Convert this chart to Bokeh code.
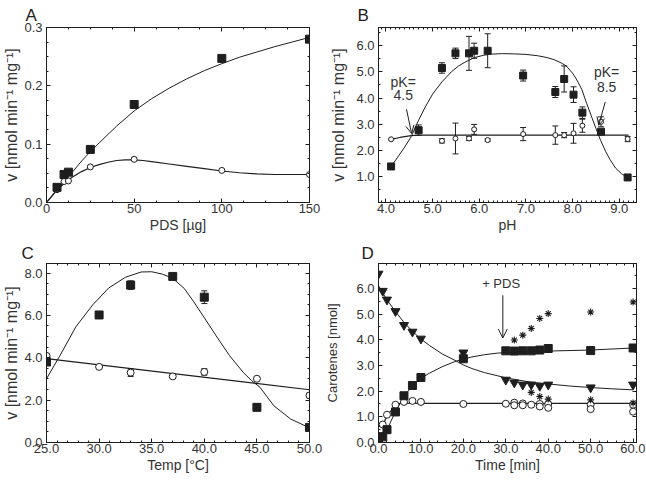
from bokeh.plotting import figure
from bokeh.layouts import gridplot
from bokeh.models import (ColumnDataSource, Whisker, TeeHead, Arrow, OpenHead, Label,
                          LinearAxis, SingleIntervalTicker, FixedTicker, PrintfTickFormatter,
                          CustomJSTickFormatter, Range1d)
from bokeh.embed import file_html
from bokeh.resources import INLINE

FONT = "Liberation Sans"
INK = "#1e1e1e"
TXT = "#333333"

# ---------------- Panel A data ----------------
a_pds = [6, 10, 12.5, 25, 50, 100, 150]
a_sq = [0.026, 0.048, 0.052, 0.091, 0.168, 0.247, 0.280]
a_ci = [0.022, 0.036, 0.037, 0.061, 0.074, 0.055, 0.048]
a_fit_x = [0, 5, 10, 15, 20, 25, 30, 40, 50, 60, 70, 80, 90, 100, 110, 120, 130, 140, 150]
a_fit_sq = [0, 0.018, 0.036, 0.053, 0.071, 0.087, 0.102, 0.131, 0.157, 0.178, 0.196, 0.212,
            0.226, 0.238, 0.249, 0.258, 0.267, 0.275, 0.283]
a_fit2_x = [0, 5, 10, 15, 20, 25, 30, 35, 40, 45, 50, 55, 60, 70, 80, 90, 100, 110, 120, 130, 140, 150]
a_fit_ci = [0, 0.018, 0.033, 0.044, 0.053, 0.060, 0.065, 0.069, 0.072, 0.073, 0.073, 0.072,
            0.070, 0.066, 0.062, 0.058, 0.054, 0.051, 0.049, 0.048, 0.048, 0.048]
a_yticks = [0.0, 0.1, 0.2, 0.3]

# ---------------- Panel B data ----------------
b_ph_sq = [4.11, 4.70, 5.20, 5.49, 5.78, 5.89, 6.18, 6.94, 7.63, 7.82, 8.02, 8.21, 8.61, 9.18]
b_sq = [1.38, 2.77, 5.15, 5.71, 5.71, 5.81, 5.81, 4.86, 4.23, 4.73, 4.13, 3.44, 2.71, 0.96]
b_sq_err = [0.0, 0.2, 0.2, 0.2, 0.65, 0.29, 0.65, 0.21, 0.21, 0.5, 0.3, 0.22, 0.08, 0.0]
b_ph_ci = [4.11, 5.20, 5.49, 5.78, 5.89, 6.18, 6.94, 7.63, 7.82, 8.02, 8.21, 8.61, 9.18]
b_ci = [2.42, 2.36, 2.45, 2.45, 2.80, 2.39, 2.62, 2.58, 2.58, 2.65, 2.94, 3.09, 2.43]
b_ci_err = [0.0, 0.08, 0.59, 0.07, 0.19, 0.05, 0.25, 0.35, 0.1, 0.38, 0.25, 0.19, 0.1]
b_fit_x = [4.11, 4.25, 4.4, 4.54, 4.7, 4.84, 5.0, 5.2, 5.4, 5.55, 5.7, 5.9, 6.1, 6.25, 6.5,
           6.75, 7.0, 7.25, 7.45, 7.6, 7.75, 7.87, 8.0, 8.08, 8.2, 8.3, 8.4, 8.5, 8.6, 8.71,
           8.8, 8.92, 9.05, 9.18]
b_fit_sq = [1.38, 1.73, 2.12, 2.52, 3.15, 3.65, 4.15, 4.62, 5.0, 5.22, 5.38, 5.55, 5.64, 5.68,
            5.70, 5.69, 5.67, 5.62, 5.55, 5.47, 5.35, 5.22, 4.95, 4.73, 4.32, 3.8, 3.32, 2.84,
            2.38, 1.95, 1.65, 1.32, 1.1, 0.96]
b_fit2_x = [4.11, 4.3, 4.54, 4.7, 9.2]
b_fit_ci = [2.42, 2.49, 2.56, 2.58, 2.58]
b_yticks = [1.0, 2.0, 3.0, 4.0, 5.0, 6.0]
b_pk_lo = (4.37, 4.62, 4.11)   # label x, "pK=" y, value y
b_pk_hi = (8.73, 5.0, 4.43)
b_arrow_lo = (4.44, 3.57, 4.55, 2.64)
b_arrow_hi = (8.70, 3.85, 8.56, 2.96)

# ---------------- Panel C data ----------------
c_temp = [25, 30, 33, 37, 40, 45, 50]
c_sq = [3.80, 6.02, 7.43, 7.84, 6.86, 1.66, 0.71]
c_sq_err = [0.0, 0.0, 0.2, 0.12, 0.3, 0.0, 0.15]
c_ci = [4.09, 3.57, 3.30, 3.12, 3.33, 3.01, 2.22]
c_ci_err = [0.0, 0.0, 0.18, 0.0, 0.15, 0.0, 0.1]
c_fit_x = [25, 26.3, 27.8, 29.4, 30.9, 32.5, 34.0, 35.0, 36.0, 37.0, 38.1, 39.0, 39.95, 41.2,
           42.4, 43.7, 44.5, 45.3, 46.6, 48.2, 49.7, 50]
c_fit_sq = [3.01, 4.12, 5.47, 6.5, 7.29, 7.8, 8.05, 8.06, 7.95, 7.75, 7.27, 6.64, 5.93, 4.98,
            4.1, 3.31, 2.92, 2.6, 1.74, 1.11, 0.76, 0.72]
c_lin_x = [25, 50]
c_lin_ci = [3.96, 2.49]

# ---------------- Panel D data ----------------
d_t_sq = [0, 1, 2, 4, 6, 8, 10, 20, 30, 32, 34, 36, 38, 40, 50, 60]
d_sq = [0.02, 0.22, 0.5, 1.19, 1.82, 2.22, 2.53, 3.26, 3.57, 3.56, 3.57, 3.57, 3.6, 3.66, 3.58, 3.68]
d_t_tri = [0, 1, 2, 4, 6, 8, 10, 20, 30, 32, 34, 36, 38, 40, 50, 60]
d_tri = [6.57, 5.9, 5.56, 5.11, 4.57, 4.31, 4.04, 3.5, 2.44, 2.33, 2.25, 2.25, 2.2, 2.25, 2.14, 2.25]
d_t_ci = [0.5, 1, 2, 4, 6, 8, 10, 20, 30, 32, 34, 36, 38, 40, 50, 60]
d_ci = [0.5, 0.7, 1.08, 1.47, 1.58, 1.62, 1.58, 1.5, 1.51, 1.55, 1.52, 1.47, 1.5, 1.5, 1.47, 1.47]
d_t_ci2 = [32, 34, 38, 40, 50, 60]
d_ci2 = [1.45, 1.45, 1.4, 1.35, 1.3, 1.2]
d_t_st = [32, 34, 36, 38, 40, 50, 60]
d_st = [3.99, 4.18, 4.44, 4.83, 5.02, 5.08, 5.47]
d_t_st2 = [36, 38, 40, 50, 60]
d_st2 = [1.95, 1.79, 1.69, 1.66, 1.54]
d_fit_sq_x = [0, 1, 2, 4, 6, 8, 10, 12, 15, 18, 20, 22, 25, 28, 30, 35, 40, 50, 60]
d_fit_sq = [0, 0.2, 0.5, 1.2, 1.8, 2.2, 2.5, 2.7, 2.95, 3.15, 3.25, 3.33, 3.42, 3.48, 3.5, 3.53,
            3.56, 3.6, 3.68]
d_fit_tri_x = [0, 2, 4, 6, 8, 10, 12, 15, 18, 20, 22, 25, 28, 30, 33, 36, 40, 45, 50, 55, 60]
d_fit_tri = [6.1, 5.55, 5.1, 4.68, 4.33, 4.03, 3.78, 3.45, 3.2, 3.02, 2.88, 2.72, 2.6, 2.52,
             2.43, 2.35, 2.28, 2.2, 2.14, 2.09, 2.05]
d_fit_ci_x = [0, 1, 2, 4, 5, 60]
d_fit_ci = [0, 0.65, 1.05, 1.45, 1.52, 1.52]
d_pds_label = (28.9, 6.19)
d_pds_arrow = (29.3, 5.73, 29.3, 4.07)

EMPTY = CustomJSTickFormatter(code="return ''")


def make_fig(w, h, xr, yr, borders, letter, dx, standoff):
    l, r, t, b = borders
    p = figure(width=w, height=h, x_range=Range1d(*xr), y_range=Range1d(*yr),
               output_backend="svg", toolbar_location=None,
               min_border_left=l, min_border_right=r, min_border_top=t, min_border_bottom=b)
    p.xgrid.visible = False
    p.ygrid.visible = False
    p.outline_line_color = INK
    p.outline_line_width = 1
    p.background_fill_color = "white"
    p.border_fill_color = "white"
    p.title.text = letter
    p.title.text_font = FONT
    p.title.text_font_size = "17px"
    p.title.text_font_style = "normal"
    p.title.text_color = INK
    p.title.align = "left"
    p.title.offset = dx
    p.title.standoff = standoff
    return p


def style_axes(p, xt, yt, xfmt, yfmt, xlabel, ylabel, ylab_size="16px", ylab_standoff=1):
    p.xaxis.ticker = xt
    p.yaxis.ticker = yt
    p.xaxis.formatter = PrintfTickFormatter(format=xfmt)
    p.yaxis.formatter = PrintfTickFormatter(format=yfmt)
    p.xaxis.axis_label = xlabel
    p.yaxis.axis_label = ylabel
    for ax in p.axis:
        ax.major_tick_in = 4
        ax.major_tick_out = 0
        ax.minor_tick_in = 2
        ax.minor_tick_out = 0
        ax.axis_line_color = INK
        ax.major_tick_line_color = INK
        ax.minor_tick_line_color = INK
        ax.major_label_text_font = FONT
        ax.major_label_text_font_size = "13px"
        ax.major_label_text_color = TXT
        ax.axis_label_text_font = FONT
        ax.axis_label_text_font_style = "normal"
        ax.axis_label_text_color = TXT
    p.xaxis.major_label_standoff = 1
    p.yaxis.major_label_standoff = 4
    p.xaxis.axis_label_text_font_size = "14px"
    p.xaxis.axis_label_standoff = 1
    p.yaxis.axis_label_text_font_size = ylab_size
    p.yaxis.axis_label_standoff = ylab_standoff
    for loc, tk in (("above", xt), ("right", yt)):
        ax = LinearAxis(ticker=tk, formatter=EMPTY, major_label_text_font_size="1px",
                        major_label_standoff=0, axis_label_standoff=0,
                        major_tick_in=4, major_tick_out=0, minor_tick_in=2, minor_tick_out=0,
                        axis_line_color=INK, major_tick_line_color=INK, minor_tick_line_color=INK)
        p.add_layout(ax, loc)


def errbars(p, xs, ys, errs):
    lo = [y - e for y, e in zip(ys, errs)]
    up = [y + e for y, e in zip(ys, errs)]
    src = ColumnDataSource(dict(x=xs, lo=lo, up=up))
    p.add_layout(Whisker(source=src, base="x", lower="lo", upper="up", line_color=INK, line_width=1,
                         lower_head=TeeHead(size=6, line_color=INK, line_width=1),
                         upper_head=TeeHead(size=6, line_color=INK, line_width=1)))


def minor(lo, hi, step):
    n = int(round((hi - lo) / step))
    return [round(lo + i * step, 4) for i in range(n + 1)]


YLAB = "v [nmol min\u207b\u00b9 mg\u207b\u00b9]"

# ---------------- Panel A ----------------
pa = make_fig(322, 240, (0, 150), (0, 0.3), (46, 13, 27, 38), "A", -21, 6)
style_axes(pa, SingleIntervalTicker(interval=50, num_minor_ticks=4),
           FixedTicker(ticks=a_yticks, minor_ticks=minor(0, 0.3, 0.025)),
           "%d", "%.1f", "PDS [\u00b5g]", YLAB)
pa.line(a_fit_x, a_fit_sq, line_color=INK, line_width=1)
pa.line(a_fit2_x, a_fit_ci, line_color=INK, line_width=1.2)
pa.scatter(a_pds, a_ci, marker="circle", size=6, fill_color="white", line_color=INK, line_width=1)
pa.scatter(a_pds, a_sq, marker="square", size=8, fill_color=INK, line_color=INK)

# ---------------- Panel B ----------------
pb = make_fig(323, 240, (3.84, 9.37), (0, 6.7), (51, 9, 27, 38), "B", -21, 6)
style_axes(pb, SingleIntervalTicker(interval=1, num_minor_ticks=10),
           FixedTicker(ticks=b_yticks, minor_ticks=minor(0, 6.5, 0.5)),
           "%.1f", "%.1f", "pH", YLAB, ylab_standoff=6)
pb.line(b_fit_x, b_fit_sq, line_color=INK, line_width=1)
pb.line(b_fit2_x, b_fit_ci, line_color=INK, line_width=1.2)
errbars(pb, b_ph_ci, b_ci, b_ci_err)
errbars(pb, b_ph_sq, b_sq, b_sq_err)
pb.scatter(b_ph_ci, b_ci, marker="circle", size=5, fill_color="white", line_color=INK, line_width=1)
pb.scatter(b_ph_sq, b_sq, marker="square", size=7, fill_color=INK, line_color=INK)
for (lx, ly1, ly2), val in ((b_pk_lo, "4.5"), (b_pk_hi, "8.5")):
    pb.add_layout(Label(x=lx, y=ly1, text="pK=", text_font=FONT, text_font_size="14px",
                        text_color=TXT, text_align="center", text_baseline="middle"))
    pb.add_layout(Label(x=lx, y=ly2, text=val, text_font=FONT, text_font_size="14px",
                        text_color=TXT, text_align="center", text_baseline="middle"))
for xs, ys, xe, ye in (b_arrow_lo, b_arrow_hi):
    pb.add_layout(Arrow(x_start=xs, y_start=ys, x_end=xe, y_end=ye, line_color=INK, line_width=1,
                        end=OpenHead(size=8, line_color=INK, line_width=1)))

# ---------------- Panel C ----------------
pc = make_fig(322, 245, (25, 50), (0, 8.45), (46, 13, 23, 43), "C", -25, 2)
style_axes(pc, SingleIntervalTicker(interval=5, num_minor_ticks=5),
           SingleIntervalTicker(interval=2, num_minor_ticks=4), "%.1f", "%.1f", "Temp [\u00b0C]", YLAB)
pc.line(c_fit_x, c_fit_sq, line_color=INK, line_width=1)
pc.line(c_lin_x, c_lin_ci, line_color=INK, line_width=1.2)
errbars(pc, c_temp, c_ci, c_ci_err)
errbars(pc, c_temp, c_sq, c_sq_err)
pc.scatter(c_temp, c_ci, marker="circle", size=7, fill_color="white", line_color=INK, line_width=1)
pc.scatter(c_temp, c_sq, marker="square", size=8, fill_color=INK, line_color=INK)

# ---------------- Panel D ----------------
pd_ = make_fig(323, 245, (0, 60.8), (0, 6.97), (51, 9, 23, 43), "D", -17, 2)
style_axes(pd_, SingleIntervalTicker(interval=10, num_minor_ticks=5),
           SingleIntervalTicker(interval=1, num_minor_ticks=2), "%.1f", "%.1f", "Time [min]",
           "Carotenes [nmol]", ylab_size="13px", ylab_standoff=13)
pd_.line(d_fit_tri_x, d_fit_tri, line_color=INK, line_width=1)
pd_.line(d_fit_sq_x, d_fit_sq, line_color=INK, line_width=1)
pd_.line(d_fit_ci_x, d_fit_ci, line_color=INK, line_width=1.2)
pd_.scatter(d_t_ci, d_ci, marker="circle", size=7, fill_color="white", line_color=INK, line_width=1)
pd_.scatter(d_t_ci2, d_ci2, marker="circle", size=7, fill_color="white", line_color=INK, line_width=1)
pd_.scatter(d_t_sq, d_sq, marker="square", size=8, fill_color=INK, line_color=INK)
pd_.scatter(d_t_tri, d_tri, marker="inverted_triangle", size=9, fill_color=INK, line_color=INK)
pd_.scatter(d_t_st, d_st, marker="asterisk", size=7, line_color=INK, line_width=1.1)
pd_.scatter(d_t_st2, d_st2, marker="asterisk", size=7, line_color=INK, line_width=1.1)
pd_.add_layout(Label(x=d_pds_label[0], y=d_pds_label[1], text="+ PDS", text_font=FONT,
                     text_font_size="13px", text_color=TXT, text_align="center",
                     text_baseline="middle"))
pd_.add_layout(Arrow(x_start=d_pds_arrow[0], y_start=d_pds_arrow[1], x_end=d_pds_arrow[2],
                     y_end=d_pds_arrow[3], line_color=INK, line_width=1,
                     end=OpenHead(size=9, line_color=INK, line_width=1)))

grid = gridplot([[pa, pb], [pc, pd_]], toolbar_location=None)
open("out.html", "w").write(file_html(grid, INLINE))
